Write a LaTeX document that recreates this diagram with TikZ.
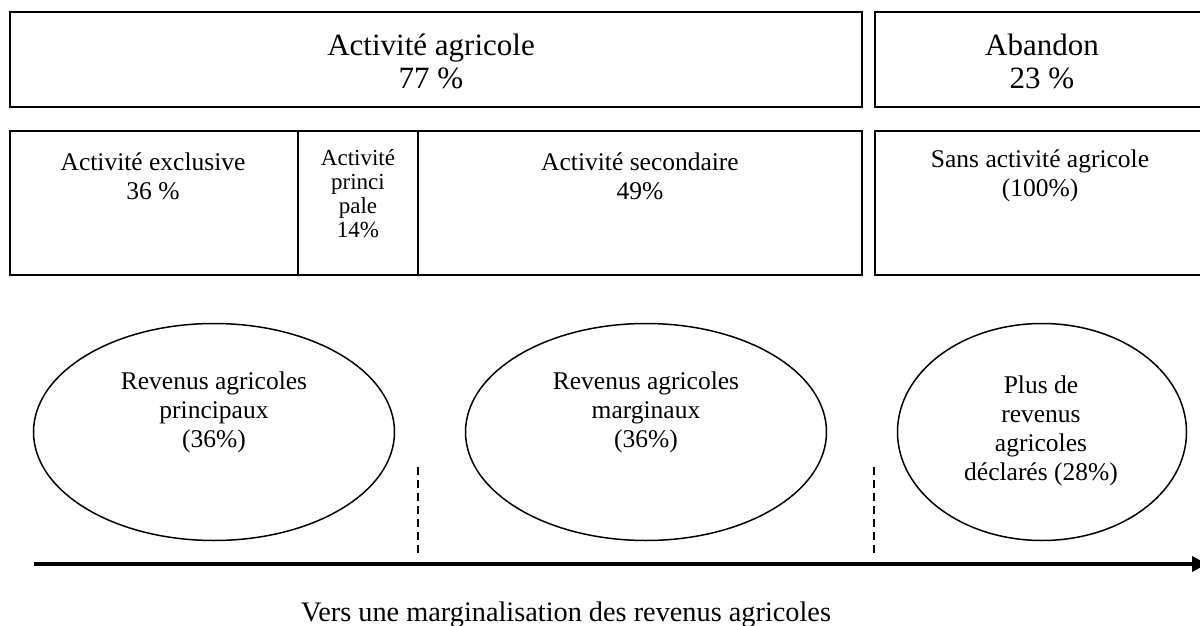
\documentclass[tikz,border=0pt]{standalone}
\usepackage{fontspec}
\setmainfont{Liberation Serif}
\usetikzlibrary{shapes.geometric,arrows.meta}
\tikzset{
  box/.style={draw, line width=1.5, inner sep=0, rectangle},
  big/.style={align=center, inner sep=0, font=\fontsize{31}{33}\selectfont},
  mid/.style={align=center, inner sep=0, font=\fontsize{25.5}{29}\selectfont},
  small/.style={align=center, inner sep=0, font=\fontsize{23}{24}\selectfont},
  oval/.style={draw, ellipse, line width=1.5, inner sep=0},
  sep/.style={line width=1.5, dash pattern=on 8pt off 5pt},
  axis/.style={line width=4, -{Triangle[length=15,width=15]}}
}
\begin{document}
\begin{tikzpicture}[x=1pt,y=-1pt]
\useasboundingbox (0,0) rectangle (1200,626);
% top row
\node[box, minimum width=852, minimum height=95] (agr) at (436,59.5) {};
\node[big] (agrt) at (431,61) {Activité agricole\\77 \%};
\node[box, minimum width=340, minimum height=95] (aba) at (1045,59.5) {};
\node[big] (abat) at (1042,61) {Abandon\\23 \%};
% second row
\node[box, minimum width=288, minimum height=144] (exc) at (154,203) {};
\node[box, minimum width=120, minimum height=144] (pri) at (358,203) {};
\node[box, minimum width=444, minimum height=144] (sec) at (640,203) {};
\node[box, minimum width=340, minimum height=144] (san) at (1045,203) {};
\node[mid] (exct) at (153,176) {Activité exclusive\\36 \%};
\node[small] (prit) at (358,194) {Activité\\princi\\pale\\14\%};
\node[mid] (sect) at (640,176) {Activité secondaire\\49\%};
\node[mid] (sant) at (1040,176) {Sans activité agricole\\(100\%)};
% ellipses
\node[oval, minimum width=361, minimum height=217] (e1) at (214,432) {};
\node[oval, minimum width=361, minimum height=217] (e2) at (646,432) {};
\node[oval, minimum width=289, minimum height=217] (e3) at (1042,432) {};
\node[mid] (e1t) at (214,412) {Revenus agricoles\\principaux\\(36\%)};
\node[mid] (e2t) at (646,412) {Revenus agricoles\\marginaux\\(36\%)};
\node[mid] (e3t) at (1041,431) {Plus de\\revenus\\agricoles\\déclarés (28\%)};
% dashed separators
\coordinate (d1a) at (418,467);
\coordinate (d1b) at (418,557);
\coordinate (d2a) at (874,467);
\coordinate (d2b) at (874,557);
\draw[sep] (d1a) -- (d1b);
\draw[sep] (d2a) -- (d2b);
% axis
\coordinate (ax0) at (34,564);
\coordinate (ax1) at (1207,564);
\draw[axis] (ax0) -- (ax1);
\node[anchor=base, inner sep=0, font=\fontsize{28.3}{30}\selectfont] (cap) at (566,621) {Vers une marginalisation des revenus agricoles};
\end{tikzpicture}
\end{document}
